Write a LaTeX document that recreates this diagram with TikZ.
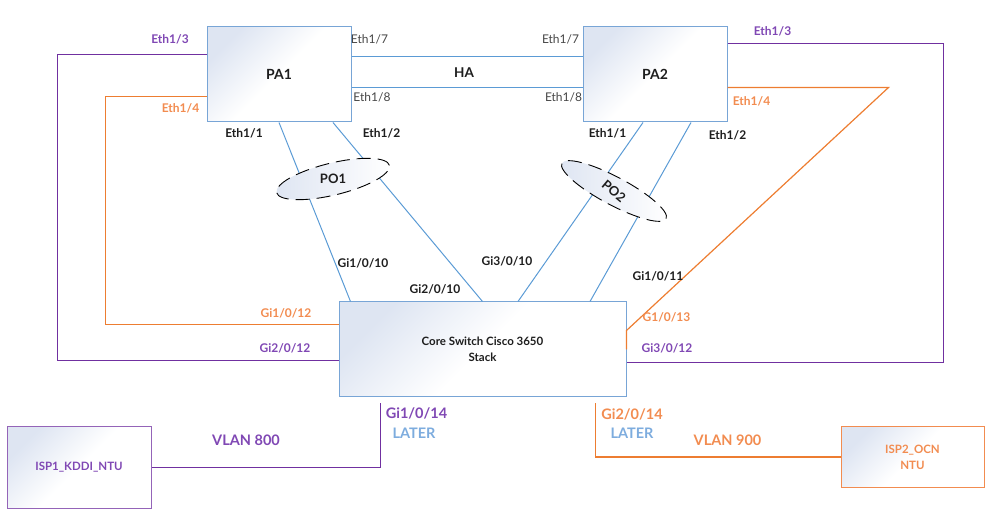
\documentclass[tikz,border=0pt]{standalone}
\usepackage{fontspec}
\setmainfont{Lato}
\usetikzlibrary{calc,shapes.geometric}
\definecolor{lineblue}{RGB}{91,155,213}
\definecolor{boxblue}{RGB}{120,165,214}
\definecolor{boxfill}{RGB}{222,229,242}
\definecolor{purp}{RGB}{112,48,160}
\definecolor{purplab}{RGB}{128,72,180}
\definecolor{orng}{RGB}{237,125,49}
\definecolor{ornglab}{RGB}{242,140,80}
\definecolor{laterblue}{RGB}{125,172,222}
\definecolor{labdark}{RGB}{30,30,30}
\definecolor{labgray}{RGB}{70,70,70}
\begin{document}
\begin{tikzpicture}[x=1pt,y=-1pt,
  devbox/.style={draw=boxblue, line width=1pt, top color=boxfill, bottom color=white, middle color=white, shading angle=45, inner sep=0pt, align=center, text=labdark, font=\fontsize{11.5}{16}\selectfont\bfseries},
  blink/.style={draw=lineblue, line width=1pt},
  plink/.style={draw=purp, line width=1.4pt},
  olink/.style={draw=orng, line width=1.2pt},
  lbl/.style={inner sep=0pt, text=labdark, font=\fontsize{12}{14}\selectfont\bfseries},
  lblr/.style={inner sep=0pt, text=labgray, font=\fontsize{12}{14}\selectfont},
  plbl/.style={lbl, text=purplab},
  olbl/.style={lbl, text=ornglab},
  big/.style={font=\fontsize{14.5}{16}\selectfont\bfseries},
  pochan/.style={ellipse, draw=black, line width=0.9pt, dash pattern=on 14pt off 7pt, left color=boxfill, right color=white, inner sep=0pt, text=labdark, font=\fontsize{13}{14}\selectfont\bfseries}
]
\useasboundingbox (0,0) rectangle (999,518);

% devices
\node[devbox, minimum width=144pt, minimum height=95pt] (PA1) at (279,74.5) {\fontsize{14}{16}\selectfont PA1};
\node[devbox, minimum width=144pt, minimum height=95pt] (PA2) at (655,74.5) {\fontsize{14}{16}\selectfont PA2};
\node[devbox, minimum width=287pt, minimum height=95pt] (core) at (482.5,349.5) {Core Switch Cisco 3650\\Stack};
\node[devbox, draw=purp!75, text=purplab, minimum width=144pt, minimum height=81pt] (ISP1) at (79,467.5) {ISP1\_KDDI\_NTU};
\node[devbox, draw=ornglab, text=ornglab, minimum width=143pt, minimum height=60pt] (ISP2) at (912.5,457) {ISP2\_OCN\\NTU};

% HA links
\draw[blink] ($(PA1.north east)+(0,30)$) -- ($(PA2.north west)+(0,30)$);
\draw[blink] ($(PA1.north east)+(0,61)$) -- ($(PA2.north west)+(0,61)$);

% port-channel links
\draw[blink] (PA1.south) -- ($(core.north west)+(12,0)$);
\draw[blink] ($(PA1.south)+(54,0)$) -- (core.north);
\draw[blink] ($(PA2.south)+(-12,0)$) -- ($(core.north)+(35.5,0)$);
\draw[blink] ($(PA2.south)+(36,0)$) -- ($(core.north)+(107.5,0)$);

% outer links
\draw[plink] ($(PA1.north west)+(0,28)$) -- ++(-149,0) |- ($(core.north west)+(0,59)$);
\draw[olink] ($(PA1.north west)+(0,70)$) -- ++(-101,0) |- ($(core.north west)+(0,23)$);
\draw[plink] ($(PA2.north east)+(0,17)$) -- ++(216,0) |- ($(core.north east)+(0,61)$);
\draw[olink] ($(PA2.north east)+(0,61)$) -- ++(161,0) -- ($(core.north east)+(0,29)$) -- ++(0,19);

% ISP links
\draw[plink] ($(core.south west)+(42,6)$) |- (ISP1.east);
\draw[olink] ($(core.south west)+(257,6)$) |- (ISP2.west);

% port channels
\node[pochan, minimum width=116pt, minimum height=32pt, rotate=13.6] (PO1) at (333,179) {\rotatebox{-13.6}{PO1}};
\node[pochan, minimum width=118pt, minimum height=28pt, rotate=-28] (PO2) at (614,191) {\rotatebox{-12}{PO2}};

% labels
\node[lbl, font=\fontsize{13.5}{14}\selectfont\bfseries] (HA) at (464,73) {HA};
\node[lblr] (l17a) at (369.5,39) {Eth1/7};
\node[lblr] (l18a) at (372,97) {Eth1/8};
\node[lblr] (l17b) at (560.5,39) {Eth1/7};
\node[lblr] (l18b) at (563.5,97) {Eth1/8};
\node[plbl] (l13a) at (170,39) {Eth1/3};
\node[olbl] (l14a) at (180.5,108) {Eth1/4};
\node[plbl] (l13b) at (772.5,31) {Eth1/3};
\node[olbl] (l14b) at (751.5,101) {Eth1/4};
\node[lbl] (l11a) at (244,133) {Eth1/1};
\node[lbl] (l12a) at (381.5,133) {Eth1/2};
\node[lbl] (l11b) at (607.5,133) {Eth1/1};
\node[lbl] (l12b) at (727.5,135) {Eth1/2};
\node[lbl] (g1010) at (363,263) {Gi1/0/10};
\node[lbl] (g2010) at (435,289) {Gi2/0/10};
\node[lbl] (g3010) at (507,261) {Gi3/0/10};
\node[lbl] (g1011) at (658,276) {Gi1/0/11};
\node[olbl] (g1013) at (666.5,317) {G1/0/13};
\node[plbl] (g3012) at (667,348) {Gi3/0/12};
\node[olbl] (g1012) at (286,313) {Gi1/0/12};
\node[plbl] (g2012) at (285,348) {Gi2/0/12};
\node[plbl, big] (g1014) at (416.5,413) {Gi1/0/14};
\node[lbl, big, text=laterblue] (lat1) at (414,433) {LATER};
\node[plbl, big] (v800) at (246,440) {VLAN 800};
\node[olbl, big] (g2014) at (632,414) {Gi2/0/14};
\node[lbl, big, text=laterblue] (lat2) at (632,433) {LATER};
\node[olbl, big] (v900) at (727.5,440) {VLAN 900};
\end{tikzpicture}
\end{document}
